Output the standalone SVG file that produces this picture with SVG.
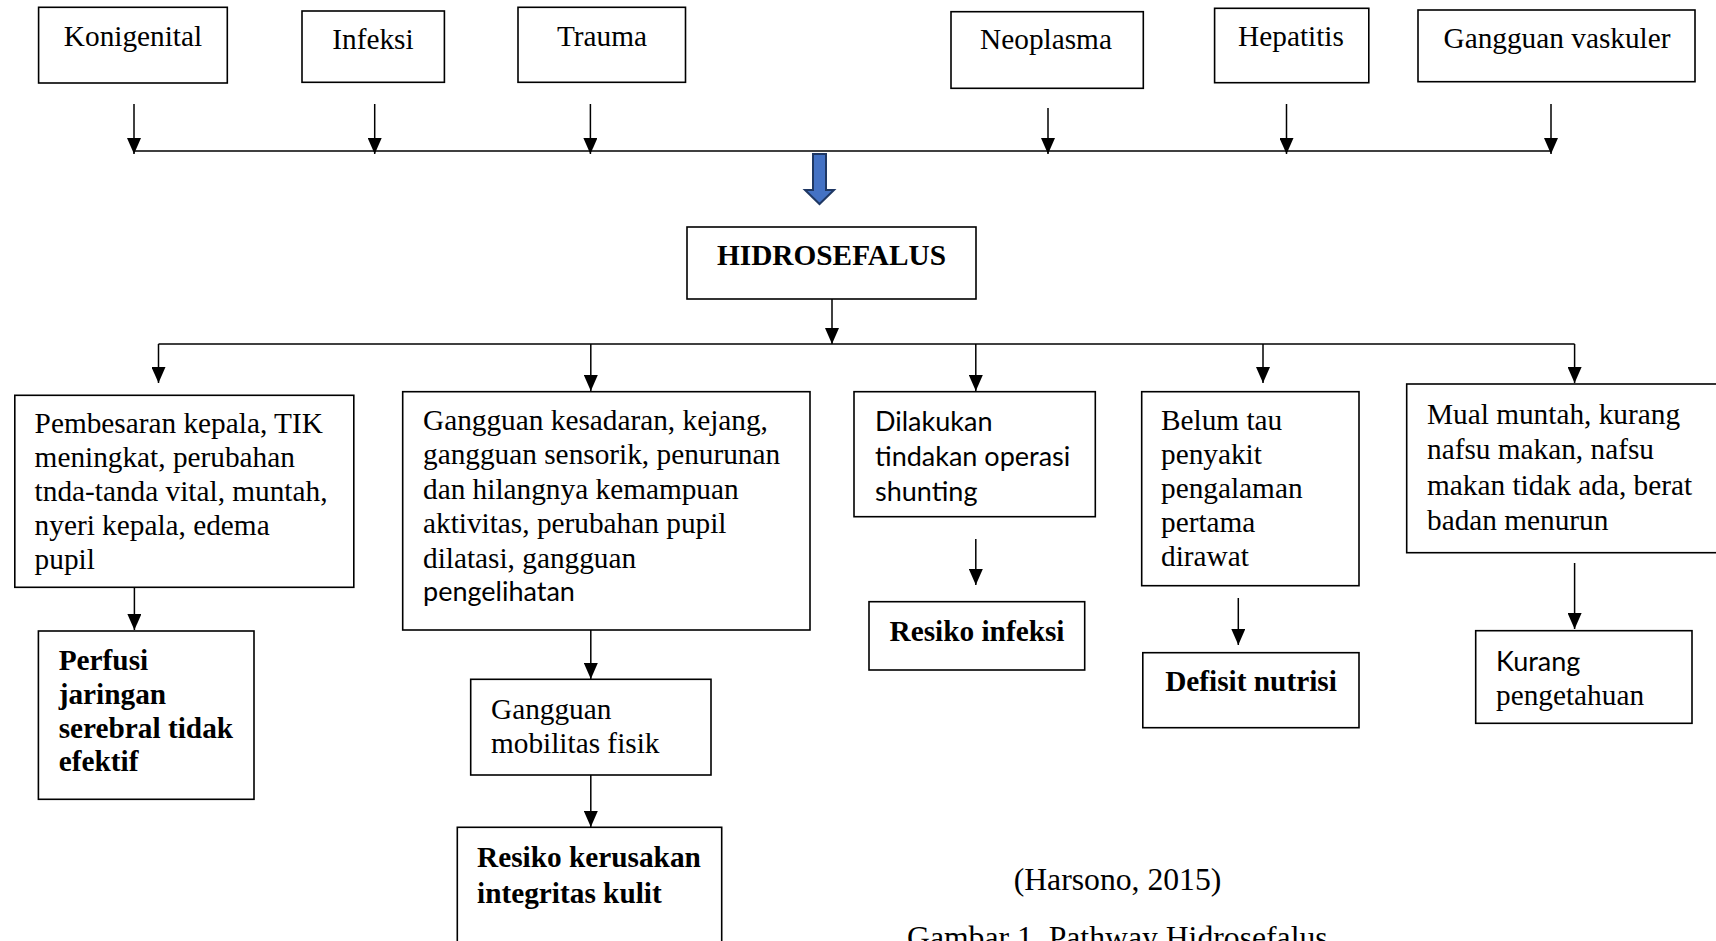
<svg xmlns="http://www.w3.org/2000/svg" width="1716" height="941" viewBox="0 0 1716 941">
<defs>
<marker id="ah" markerUnits="userSpaceOnUse" viewBox="0 0 16 14" markerWidth="16" markerHeight="14" refX="16" refY="7" orient="auto">
<path d="M0,0 L16,7 L0,14 z" fill="#000"/>
</marker>
<style>
.box{fill:#fff;stroke:#000;stroke-width:1.6}
.t{font-family:"Liberation Serif","Times New Roman",serif;font-size:29.3px;fill:#000}
.b{font-weight:bold}
.c{text-anchor:middle}
.s{font-family:Lato,"Liberation Sans",sans-serif;font-size:27px;fill:#000}
.ln{fill:none;stroke:#000;stroke-width:1.5}
.ar{fill:none;stroke:#000;stroke-width:1.5;marker-end:url(#ah)}
</style>
</defs>
<rect width="1716" height="941" fill="#fff"/>

<g id="connectors">
<line class="ar" x1="134" y1="104" x2="134" y2="154"/>
<line class="ar" x1="374.7" y1="104" x2="374.7" y2="154"/>
<line class="ar" x1="590.4" y1="104" x2="590.4" y2="154"/>
<line class="ar" x1="1048" y1="108" x2="1048" y2="154"/>
<line class="ar" x1="1286.5" y1="104" x2="1286.5" y2="154"/>
<line class="ar" x1="1551" y1="104" x2="1551" y2="154"/>
<line class="ln" x1="134" y1="151" x2="1551" y2="151"/>
<polygon points="813,154 826,154 826,190 834,190 819.5,204 805,190 813,190" fill="#4472C4" stroke="#1F3864" stroke-width="2"/>
<line class="ar" x1="832" y1="299" x2="832" y2="344"/>
<line class="ln" x1="158.5" y1="344" x2="1574.6" y2="344"/>
<line class="ar" x1="158.5" y1="344" x2="158.5" y2="383"/>
<line class="ar" x1="590.8" y1="344" x2="590.8" y2="391"/>
<line class="ar" x1="975.8" y1="344" x2="975.8" y2="391"/>
<line class="ar" x1="1263" y1="344" x2="1263" y2="383"/>
<line class="ar" x1="1574.6" y1="344" x2="1574.6" y2="383"/>
<line class="ar" x1="134.4" y1="587" x2="134.4" y2="630"/>
<line class="ar" x1="590.8" y1="630" x2="590.8" y2="679"/>
<line class="ar" x1="590.8" y1="775" x2="590.8" y2="827"/>
<line class="ar" x1="975.8" y1="539" x2="975.8" y2="585"/>
<line class="ar" x1="1238.3" y1="598" x2="1238.3" y2="645"/>
<line class="ar" x1="1574.6" y1="563" x2="1574.6" y2="629"/>
</g>

<g id="konigenital">
<rect class="box" x="38.6" y="7.3" width="188.7" height="75.7"/>
<text class="t c" x="133" y="46">Konigenital</text>
</g>
<g id="infeksi">
<rect class="box" x="302" y="11" width="142.4" height="71.3"/>
<text class="t c" x="373" y="49">Infeksi</text>
</g>
<g id="trauma">
<rect class="box" x="518" y="7.3" width="167.5" height="75"/>
<text class="t c" x="602" y="46">Trauma</text>
</g>
<g id="neoplasma">
<rect class="box" x="951" y="11.7" width="192.3" height="76.6"/>
<text class="t c" x="1046" y="49">Neoplasma</text>
</g>
<g id="hepatitis">
<rect class="box" x="1214.6" y="8.3" width="154.2" height="74.4"/>
<text class="t c" x="1291" y="46">Hepatitis</text>
</g>
<g id="vaskuler">
<rect class="box" x="1418" y="10" width="277" height="71.7"/>
<text class="t c" x="1557" y="48">Gangguan vaskuler</text>
</g>

<g id="hidrosefalus">
<rect class="box" x="687" y="227" width="289" height="72"/>
<text class="t b c" x="831.5" y="265">HIDROSEFALUS</text>
</g>

<g id="pembesaran">
<rect class="box" x="14.8" y="395.3" width="339" height="192"/>
<text class="t" x="34.6" y="433">Pembesaran kepala, TIK</text>
<text class="t" x="34.6" y="467">meningkat, perubahan</text>
<text class="t" x="34.6" y="501">tnda-tanda vital, muntah,</text>
<text class="t" x="34.6" y="535">nyeri kepala, edema</text>
<text class="t" x="34.6" y="569">pupil</text>
</g>
<g id="kesadaran">
<rect class="box" x="402.7" y="391.7" width="407.3" height="238.3"/>
<text class="t" x="423" y="430">Gangguan kesadaran, kejang,</text>
<text class="t" x="423" y="464.4">gangguan sensorik, penurunan</text>
<text class="t" x="423" y="498.8">dan hilangnya kemampuan</text>
<text class="t" x="423" y="533.2">aktivitas, perubahan pupil</text>
<text class="t" x="423" y="567.6">dilatasi, gangguan</text>
<text class="s" x="423" y="601">pengelihatan</text>
</g>
<g id="operasi">
<rect class="box" x="854" y="391.7" width="241.3" height="125"/>
<text class="s" x="875" y="431">Dilakukan</text>
<text class="s" x="875" y="466">tindakan operasi</text>
<text class="s" x="875" y="501">shunting</text>
</g>
<g id="belumtau">
<rect class="box" x="1141.7" y="391.7" width="217.3" height="194"/>
<text class="t" x="1161" y="430">Belum tau</text>
<text class="t" x="1161" y="464">penyakit</text>
<text class="t" x="1161" y="498">pengalaman</text>
<text class="t" x="1161" y="532">pertama</text>
<text class="t" x="1161" y="566">dirawat</text>
</g>
<g id="mual">
<rect class="box" x="1406.7" y="384" width="330" height="168.7"/>
<text class="t" x="1427" y="424">Mual muntah, kurang</text>
<text class="t" x="1427" y="459">nafsu makan, nafsu</text>
<text class="t" x="1427" y="495">makan tidak ada, berat</text>
<text class="t" x="1427" y="530">badan menurun</text>
</g>

<g id="perfusi">
<rect class="box" x="38.4" y="631" width="215.6" height="168.3"/>
<text class="t b" x="58.7" y="670">Perfusi</text>
<text class="t b" x="58.7" y="704">jaringan</text>
<text class="t b" x="58.7" y="738">serebral tidak</text>
<text class="t b" x="58.7" y="771">efektif</text>
</g>
<g id="mobilitas">
<rect class="box" x="470.7" y="679.3" width="240.3" height="95.7"/>
<text class="t" x="491" y="719">Gangguan</text>
<text class="t" x="491" y="753">mobilitas fisik</text>
</g>
<g id="kerusakan">
<rect class="box" x="457.3" y="827.3" width="264.4" height="140"/>
<text class="t b" x="477" y="867">Resiko kerusakan</text>
<text class="t b" x="477" y="903">integritas kulit</text>
</g>
<g id="resikoinfeksi">
<rect class="box" x="869" y="601.7" width="215.7" height="68.3"/>
<text class="t b c" x="977" y="641">Resiko infeksi</text>
</g>
<g id="defisit">
<rect class="box" x="1142.8" y="652.7" width="216.2" height="75"/>
<text class="t b c" x="1251" y="691">Defisit nutrisi</text>
</g>
<g id="kurang">
<rect class="box" x="1475.7" y="630.7" width="216.3" height="92.6"/>
<text class="s" x="1496" y="671">Kurang</text>
<text class="t" x="1496" y="705">pengetahuan</text>
</g>

<g id="caption">
<text class="t c" x="1117.5" y="890" style="font-size:31.7px">(Harsono, 2015)</text>
<text class="t" x="907" y="948" style="font-size:31.7px">Gambar 1. Pathway Hidrosefalus</text>
</g>
</svg>
